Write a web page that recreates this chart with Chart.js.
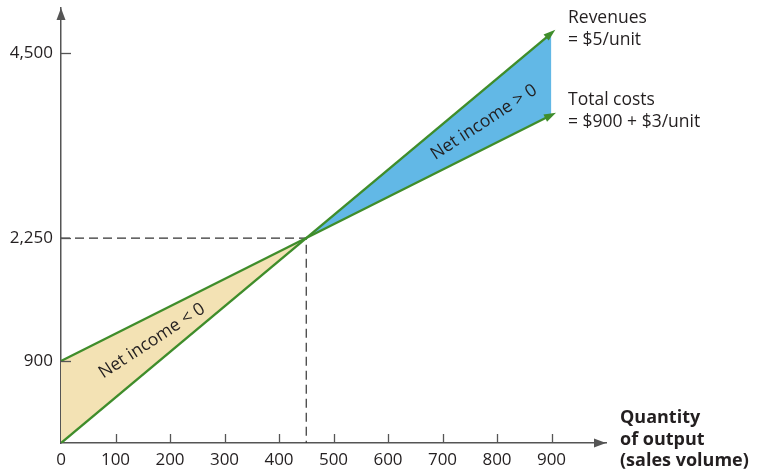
<!DOCTYPE html>
<html>
<head>
<meta charset="utf-8">
<script src="https://cdn.jsdelivr.net/npm/chart.js@4.4.0/dist/chart.umd.min.js"></script>
<style>
  body { margin: 0; background: #fff; }
</style>
</head>
<body>
<canvas id="chart" width="758" height="470"></canvas>
<script>
const xTicks = [0, 100, 200, 300, 400, 500, 600, 700, 800, 900];
// the top label sits a little below the real 4,500 level in the drawing
const yTickValues = [900, 2250, 4280];
const yTickLabels = ['900', '2,250', '4,500'];

const quantity = [0, 900];
const revenues = [0, 4500];
const totalCosts = [900, 3600];
const breakEvenQty = 450;
const breakEvenValue = 2250;

const GREEN = '#3f8d2b';
const BLUE = '#62b8e6';
const TAN = '#f3e2b4';
const AXIS = '#555555';
const TEXT = '#231f20';

const toPoints = (xs, ys) => xs.map((x, i) => ({x: x, y: ys[i]}));

function arrowHead(ctx, fromX, fromY, toX, toY, len, half, color) {
  const a = Math.atan2(toY - fromY, toX - fromX);
  ctx.save();
  ctx.fillStyle = color;
  ctx.translate(toX, toY);
  ctx.rotate(a);
  ctx.beginPath();
  ctx.moveTo(0, 0);
  ctx.lineTo(-len, -half);
  ctx.lineTo(-len, half);
  ctx.closePath();
  ctx.fill();
  ctx.restore();
}

const decorations = {
  id: 'decorations',
  afterDatasetsDraw(chart) {
    const ctx = chart.ctx;
    const xs = chart.scales.x, ys = chart.scales.y;
    const area = chart.chartArea;
    const x0 = xs.getPixelForValue(0), y0 = ys.getPixelForValue(0);

    // tick marks inside the axes
    ctx.save();
    ctx.strokeStyle = AXIS;
    ctx.lineWidth = 1.3;
    xTicks.slice(1).forEach(v => {
      const px = Math.round(xs.getPixelForValue(v)) + 0.5;
      ctx.beginPath(); ctx.moveTo(px, y0); ctx.lineTo(px, y0 - 9); ctx.stroke();
    });
    yTickValues.forEach(v => {
      const py = Math.round(ys.getPixelForValue(v)) + 0.5;
      ctx.beginPath(); ctx.moveTo(x0, py); ctx.lineTo(x0 + 10, py); ctx.stroke();
    });
    ctx.restore();

    // axis arrows
    arrowHead(ctx, x0, y0, area.right, y0, 12, 4.5, AXIS);
    arrowHead(ctx, x0, y0, x0, area.top, 12, 4.5, AXIS);

    // arrows at the end of both lines
    [revenues, totalCosts].forEach(series => {
      const ax = xs.getPixelForValue(quantity[0]), ay = ys.getPixelForValue(series[0]);
      const bx = xs.getPixelForValue(quantity[1]), by = ys.getPixelForValue(series[1]);
      const d = Math.hypot(bx - ax, by - ay);
      const tx = bx + (bx - ax) / d * 5, ty = by + (by - ay) / d * 5;
      arrowHead(ctx, ax, ay, tx, ty, 12, 4, GREEN);
    });

    // rotated region labels
    const angRev = Math.atan2(ys.getPixelForValue(revenues[1]) - ys.getPixelForValue(revenues[0]),
                              xs.getPixelForValue(quantity[1]) - xs.getPixelForValue(quantity[0]));
    const angCost = Math.atan2(ys.getPixelForValue(totalCosts[1]) - ys.getPixelForValue(totalCosts[0]),
                               xs.getPixelForValue(quantity[1]) - xs.getPixelForValue(quantity[0]));
    const ang = (angRev + angCost) / 2;
    ctx.save();
    ctx.fillStyle = TEXT;
    ctx.font = '17.5px "Open Sans"';
    ctx.textAlign = 'center';
    ctx.textBaseline = 'middle';
    [[776, 3520, 'Net income > 0'], [167, 1120, 'Net income < 0']].forEach(l => {
      ctx.save();
      ctx.translate(xs.getPixelForValue(l[0]), ys.getPixelForValue(l[1]));
      ctx.rotate(ang);
      ctx.fillText(l[2], 0, 0);
      ctx.restore();
    });
    ctx.restore();

    // line captions and axis title
    ctx.save();
    ctx.fillStyle = TEXT;
    ctx.textAlign = 'left';
    ctx.textBaseline = 'middle';
    ctx.font = '17.5px "Open Sans"';
    ctx.fillText('Revenues', 568, 18);
    ctx.fillText('= $5/unit', 568, 40);
    ctx.fillText('Total costs', 568, 100);
    ctx.fillText('= $900 + $3/unit', 568, 122);
    ctx.font = 'bold 18px "Open Sans"';
    ctx.fillText('Quantity', 620, 418);
    ctx.fillText('of output', 620, 440);
    ctx.fillText('(sales volume)', 620, 461);
    ctx.restore();
  }
};

new Chart(document.getElementById('chart'), {
  type: 'line',
  data: {
    datasets: [
      {
        label: 'Revenues',
        data: toPoints(quantity, revenues),
        borderColor: GREEN,
        borderWidth: 2.4,
        pointRadius: 0,
        fill: {target: 1, above: BLUE, below: TAN},
        order: 1
      },
      {
        label: 'Total costs',
        data: toPoints(quantity, totalCosts),
        borderColor: GREEN,
        borderWidth: 2.4,
        pointRadius: 0,
        fill: false,
        order: 2
      },
      {
        label: 'Break-even',
        data: [{x: 0, y: breakEvenValue}, {x: breakEvenQty, y: breakEvenValue}, {x: breakEvenQty, y: 0}],
        borderColor: '#333333',
        borderWidth: 1.2,
        borderDash: [9, 5],
        pointRadius: 0,
        fill: false,
        order: 3
      }
    ]
  },
  options: {
    responsive: false,
    animation: false,
    layout: {padding: {top: 8, right: 152, left: 0, bottom: 0}},
    plugins: {
      legend: {display: false},
      tooltip: {enabled: false},
      filler: {drawTime: 'beforeDatasetsDraw'}
    },
    scales: {
      x: {
        type: 'linear',
        min: 0,
        max: 1000,
        afterBuildTicks: s => { s.ticks = xTicks.map(v => ({value: v})); },
        afterFit: s => { s.height = 27; s.paddingLeft = 0; s.paddingRight = 0; },
        grid: {display: false, drawTicks: false},
        border: {display: true, color: AXIS, width: 1.5},
        ticks: {color: TEXT, font: {family: 'Open Sans', size: 17}, padding: 7, maxRotation: 0, autoSkip: false}
      },
      y: {
        type: 'linear',
        min: 0,
        max: 4775,
        afterBuildTicks: s => { s.ticks = yTickValues.map(v => ({value: v})); },
        afterFit: s => { s.width = 61; s.paddingTop = 0; s.paddingBottom = 0; },
        grid: {display: false, drawTicks: false},
        border: {display: true, color: AXIS, width: 1.5},
        ticks: {
          color: TEXT,
          font: {family: 'Open Sans', size: 17},
          padding: 8,
          autoSkip: false,
          callback: (v, i) => yTickLabels[i]
        }
      }
    }
  },
  plugins: [decorations]
});
</script>
</body>
</html>
